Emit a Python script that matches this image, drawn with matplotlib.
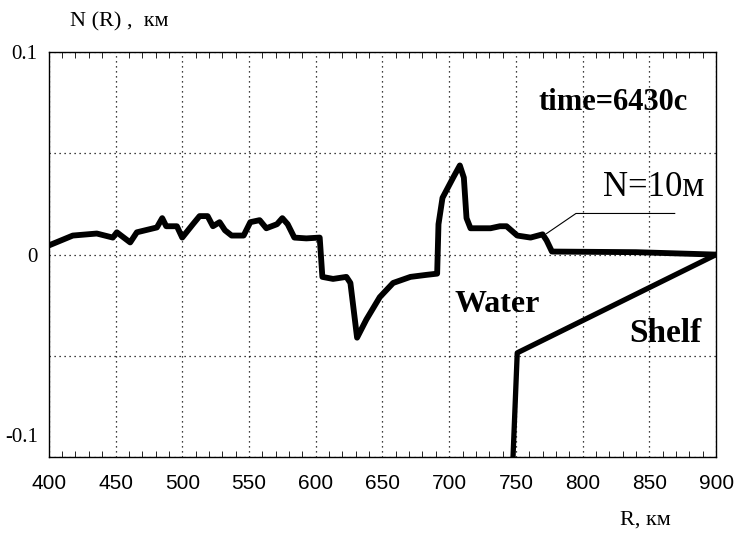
import matplotlib.pyplot as plt
import matplotlib.transforms as mtransforms
from matplotlib.ticker import MultipleLocator, FixedLocator

# wave profile N(R), km
r_wave = [400, 418, 436, 448, 451, 461, 466, 481, 485, 488, 496, 500, 508, 513,
          519, 523, 528, 532, 537, 546, 551, 558, 563, 571, 575, 579, 584, 593,
          603, 605, 613, 623, 626, 631, 638, 648, 658, 671, 683, 691, 692, 695,
          703, 708, 711, 713, 716, 731, 738, 743, 751, 761, 770, 773, 777, 840, 900]
n_wave = [0.0045, 0.0094, 0.0104, 0.0084, 0.011, 0.006, 0.011, 0.0134, 0.018, 0.014,
          0.014, 0.0084, 0.015, 0.019, 0.019, 0.014, 0.016, 0.012, 0.0094, 0.0094,
          0.016, 0.017, 0.013, 0.015, 0.018, 0.015, 0.0084, 0.008, 0.0084, -0.011,
          -0.012, -0.011, -0.014, -0.041, -0.032, -0.021, -0.014, -0.011, -0.010,
          -0.0094, 0.015, 0.028, 0.038, 0.044, 0.038, 0.018, 0.013, 0.013, 0.014,
          0.014, 0.0094, 0.0084, 0.010, 0.007, 0.0015, 0.0012, 0.0]

# shelf profile
r_shelf = [900, 751, 746]
n_shelf = [0.0, -0.0485, -0.13]

# leader line for the N=10m label
r_lead = [773, 795, 869]
n_lead = [0.0104, 0.0203, 0.0203]

fig = plt.figure(figsize=(7.39, 5.36), dpi=100)
ax = fig.add_axes([0.066, 0.147, 0.903, 0.756])

ax.plot(r_wave, n_wave, color='black', lw=4.2, solid_joinstyle='round')
ax.plot(r_shelf, n_shelf, color='black', lw=3.8, solid_joinstyle='round')
ax.plot(r_lead, n_lead, color='black', lw=0.8)

ax.set_xlim(400, 900)
ax.set_ylim(-0.1, 0.1)

ax.xaxis.set_major_locator(MultipleLocator(50))
ax.xaxis.set_minor_locator(MultipleLocator(10))
ax.yaxis.set_major_locator(FixedLocator([-0.1, -0.05, 0, 0.05, 0.1]))
ax.set_yticklabels(['-0.1', '', '0', '', '0.1'])

ax.grid(True, which='major', color='black', linestyle=(0, (1, 3)), lw=0.9)
ax.tick_params(axis='x', which='both', direction='in', top=True, length=4,
               labelsize=15, pad=12)
ax.tick_params(axis='x', which='major', length=0)
ax.tick_params(axis='y', which='both', length=0, labelsize=15, pad=8)
for lab in ax.get_xticklabels():
    lab.set_family(['Liberation Sans', 'DejaVu Sans'])
ylabs = ax.get_yticklabels()
for lab in ylabs:
    lab.set_family(['Liberation Serif', 'DejaVu Serif'])
# the bottom label sits a little above the frame line
ylabs[0].set_transform(ylabs[0].get_transform() +
                       mtransforms.ScaledTranslation(0, 16 / 72, fig.dpi_scale_trans))
for s in ax.spines.values():
    s.set_linewidth(1.0)

serif = ['Liberation Serif', 'DejaVu Serif']
ax.text(879, 0.0713, 'time=6430c', fontsize=22, fontweight='bold', family=serif,
        ha='right', va='baseline')
ax.text(853, 0.029, 'N=10м', fontsize=25, family=serif, ha='center', va='baseline')
ax.text(736, -0.0285, 'Water', fontsize=23, fontweight='bold', family=serif,
        ha='center', va='baseline')
ax.text(862, -0.0432, 'Shelf', fontsize=24, fontweight='bold', family=serif,
        ha='center', va='baseline')

fig.text(0.162, 0.959, 'N (R) ,  км', fontsize=16, family=serif, ha='center', va='center')
fig.text(0.873, 0.03, 'R, км', fontsize=16, family=serif, ha='center', va='center')

fig.savefig('out.png', dpi=100)
